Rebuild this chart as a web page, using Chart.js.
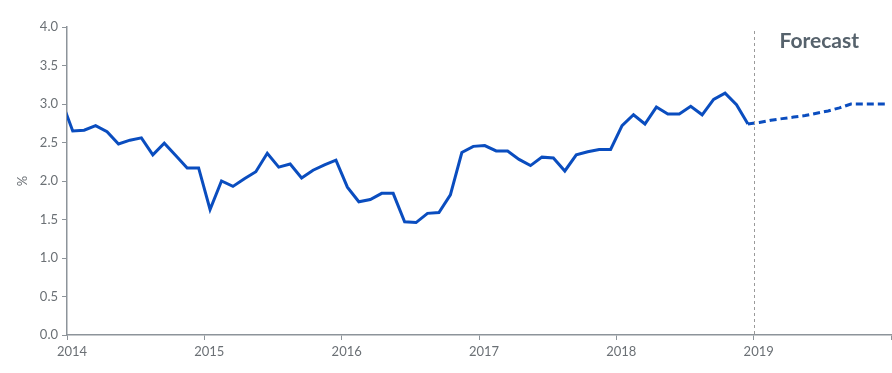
<!DOCTYPE html>
<html>
<head>
<meta charset="utf-8">
<script src="https://cdn.jsdelivr.net/npm/chart.js@4.4.1/dist/chart.umd.min.js"></script>
<style>
  html, body { margin: 0; padding: 0; background: #fff; }
  #wrap { width: 892px; height: 373px; }
</style>
</head>
<body>
<div id="wrap"><canvas id="inflation"></canvas></div>
<script>
// year tick labels, one every 12 months starting Jan 2014 (2020 edge unlabelled)
const years = ['2014', '2015', '2016', '2017', '2018', '2019', ''];

// monthly actuals, Dec 2013 .. Dec 2018 (first value sits just left of the axis)
const actual = [
  3.05,
  2.65, 2.66, 2.72, 2.64, 2.48, 2.53, 2.56, 2.34, 2.49, 2.33, 2.17, 2.17,
  1.63, 2.00, 1.93, 2.03, 2.12, 2.36, 2.18, 2.22, 2.04, 2.14, 2.21, 2.27,
  1.92, 1.73, 1.76, 1.84, 1.84, 1.47, 1.46, 1.58, 1.59, 1.82, 2.37, 2.45,
  2.46, 2.39, 2.39, 2.28, 2.20, 2.31, 2.30, 2.13, 2.34, 2.38, 2.41, 2.41,
  2.72, 2.86, 2.74, 2.96, 2.87, 2.87, 2.97, 2.86, 3.06, 3.14, 2.99, 2.74
];
const actualStart = -1; // month index of first value (Dec 2013)

// forecast, Dec 2018 .. Dec 2019
const forecast = [2.74, 2.76, 2.79, 2.81, 2.83, 2.85, 2.88, 2.91, 2.95, 3.00, 3.00, 3.00, 3.00];
const forecastStart = 59;
const forecastLineAt = 60; // Jan 2019

const toPoints = (vals, start) => vals.map((v, i) => ({ x: start + i + 0.5, y: v }));

const grey = '#6b7075';
const axisGrey = '#8d949a';
const blue = '#0a4dbf';

const forecastMarker = {
  id: 'forecastMarker',
  afterDatasetsDraw(chart) {
    const { ctx, chartArea, scales } = chart;
    const x = Math.round(scales.x.getPixelForValue(forecastLineAt)) + 0.5;
    ctx.save();
    ctx.strokeStyle = '#9a9a9a';
    ctx.lineWidth = 1;
    ctx.setLineDash([3, 3]);
    ctx.beginPath();
    ctx.moveTo(x, chartArea.top + 4);
    ctx.lineTo(x, chartArea.bottom);
    ctx.stroke();
    ctx.setLineDash([]);
    ctx.fillStyle = '#56626c';
    ctx.font = 'bold 21px Lato';
    ctx.textBaseline = 'middle';
    ctx.fillText('Forecast', x + 25, chartArea.top + 14);
    ctx.restore();
  }
};

new Chart(document.getElementById('inflation').getContext('2d'), {
  type: 'line',
  data: {
    datasets: [{
      label: 'Actual',
      data: toPoints(actual, actualStart),
      borderColor: blue,
      borderWidth: 3,
      pointRadius: 0,
      tension: 0,
      fill: false
    }, {
      label: 'Forecast',
      data: toPoints(forecast, forecastStart),
      borderColor: blue,
      borderWidth: 3,
      borderDash: [7, 4],
      pointRadius: 0,
      tension: 0,
      fill: false
    }]
  },
  options: {
    responsive: true,
    maintainAspectRatio: false,
    animation: false,
    layout: { padding: { left: 15, right: 1, top: 27, bottom: 0 } },
    plugins: { legend: { display: false }, tooltip: { enabled: false } },
    scales: {
      x: {
        type: 'linear',
        min: 0,
        max: 72,
        afterBuildTicks: s => { s.ticks = years.map((y, i) => ({ value: i * 12 })); },
        afterFit: s => { s.height = 38; s.paddingLeft = 0; s.paddingRight = 0; },
        ticks: {
          color: grey,
          font: { family: 'Lato', size: 13 },
          labelOffset: 5,
          padding: 4,
          maxRotation: 0,
          callback: (v) => years[v / 12]
        },
        grid: { display: true, drawOnChartArea: false, drawTicks: true, tickLength: 5, color: axisGrey },
        border: { display: true, color: axisGrey, width: 1.5 }
      },
      y: {
        min: 0,
        max: 4,
        afterFit: s => { s.width = 52; },
        ticks: {
          stepSize: 0.5,
          color: grey,
          font: { family: 'Lato', size: 13 },
          padding: 4,
          callback: v => v.toFixed(1)
        },
        title: {
          display: true,
          text: '%',
          color: grey,
          font: { family: 'Lato', size: 13 },
          padding: { top: 0, bottom: 0 }
        },
        grid: { display: true, drawOnChartArea: false, drawTicks: true, tickLength: 5, color: axisGrey },
        border: { display: true, color: axisGrey, width: 1.5 }
      }
    }
  },
  plugins: [forecastMarker]
});
</script>
</body>
</html>
